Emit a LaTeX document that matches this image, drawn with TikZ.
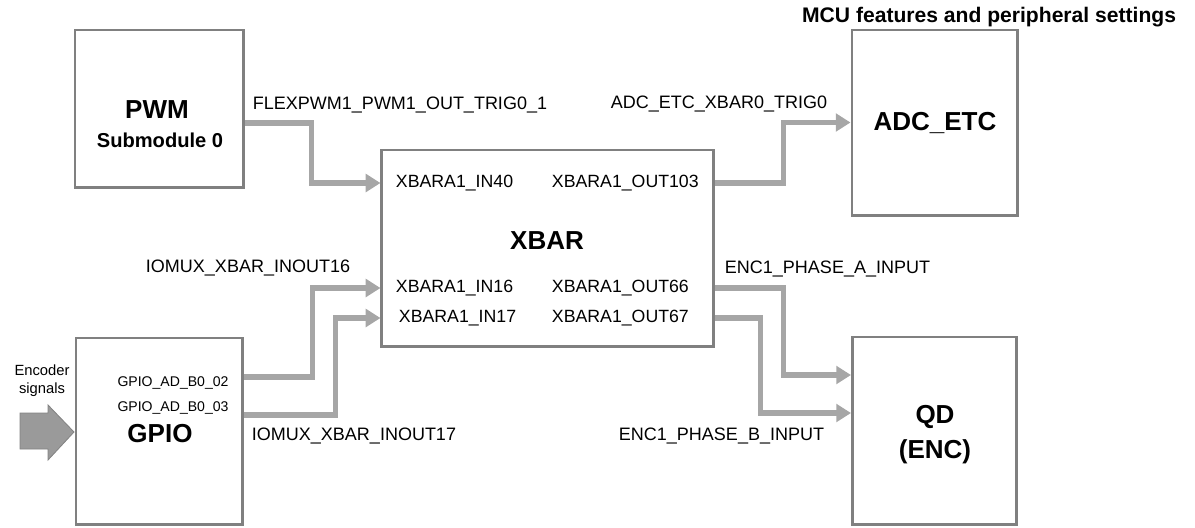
\documentclass[tikz,border=0pt]{standalone}
\usepackage{fontspec}
\setmainfont{Liberation Sans}
\usepackage{xcolor}
\usepackage{tikz}
\usetikzlibrary{arrows.meta, positioning, calc}

\definecolor{boxgray}{HTML}{808080}
\definecolor{wiregray}{HTML}{A6A6A6}
\definecolor{padgray}{HTML}{9A9A9A}

\begin{document}
\begin{tikzpicture}[
    x=0.025cm, y=-0.025cm,
    block/.style={draw=boxgray, line width=2.1pt, inner sep=0pt},
    title/.style={font=\bfseries\fontsize{18.5}{25}\selectfont, align=center},
    sub/.style={font=\bfseries\fontsize{14.3}{17}\selectfont},
    port/.style={font=\fontsize{12.6}{15}\selectfont, anchor=west},
    sig/.style={font=\fontsize{12.8}{15}\selectfont},
    pin/.style={font=\fontsize{10}{12}\selectfont},
    wire/.style={draw=wiregray, line width=3.8pt, -{Triangle[length=10.5pt, width=12.5pt]}},
]
\useasboundingbox (0,0) rectangle (1195,527);

% Blocks
\node[block, minimum width=4.2cm, minimum height=3.925cm] (pwm) at (159,108.5) {};
\node[block, minimum width=4.15cm, minimum height=4.65cm] (gpio) at (159,431) {};
\node[block, minimum width=8.275cm, minimum height=4.9cm] (xbar) at (547.5,248) {};
\node[block, minimum width=4.125cm, minimum height=4.625cm] (adc) at (934.5,122.5) {};
\node[block, minimum width=4.1cm, minimum height=4.675cm] (qd) at (934.5,430.5) {};

% Block titles
\node[title] (pwmname) at (157,110) {PWM};
\node[sub] (pwmsub) at (160,140) {Submodule 0};
\node[title] (gpioname) at (160,434) {GPIO};
\node[title] (xbarname) at (547,241) {XBAR};
\node[title] (adcname) at (935,123) {ADC\_ETC};
\node[title] (qdname) at (935,434.5) {QD\\(ENC)};
\node[sub, anchor=east, font=\bfseries\fontsize{15}{18}\selectfont] (mcu) at (1181,17) {MCU features and peripheral settings};

% XBAR ports
\node[port] (in40) at (391,183) {XBARA1\_IN40};
\node[port] (out103) at (547,183) {XBARA1\_OUT103};
\node[port] (in16) at (391,288) {XBARA1\_IN16};
\node[port] (out66) at (547,288) {XBARA1\_OUT66};
\node[port] (in17) at (394,318) {XBARA1\_IN17};
\node[port] (out67) at (547,318) {XBARA1\_OUT67};

% GPIO pins
\node[pin] (pad02) at (173,383) {GPIO\_AD\_B0\_02};
\node[pin] (pad03) at (173,408) {GPIO\_AD\_B0\_03};
\node[pin, align=center, font=\fontsize{10.5}{13}\selectfont] (enc) at (42,381) {Encoder\\signals};

% Signal names
\node[sig, anchor=west] (flexsig) at (248,105) {FLEXPWM1\_PWM1\_OUT\_TRIG0\_1};
\node[sig, anchor=east] (adcsig) at (832,104) {ADC\_ETC\_XBAR0\_TRIG0};
\node[sig, anchor=east] (iomux16) at (355,268) {IOMUX\_XBAR\_INOUT16};
\node[sig, anchor=west] (iomux17) at (247,436) {IOMUX\_XBAR\_INOUT17};
\node[sig, anchor=west] (phasea) at (720,269) {ENC1\_PHASE\_A\_INPUT};
\node[sig, anchor=east] (phaseb) at (829,436) {ENC1\_PHASE\_B\_INPUT};

% Encoder input arrow
\fill[padgray, draw=padgray!85!black, line width=0.6pt]
    (20,413) -- (48,413) -- (48,405) -- (74,432) -- (48,460) -- (48,449) -- (20,449) -- cycle;

% Connections
\draw[wire] ($(pwm.east)+(0,14.5)$) -- ++(67,0) |- (xbar.west |- in40);
\draw[wire] (xbar.east |- out103) -- ++(69,0) |- (adc.west);
\draw[wire] ($(gpio.east)+(0,-54)$) -- ++(69,0) |- (xbar.west |- in16);
\draw[wire] ($(gpio.east)+(0,-16)$) -- ++(92,0) |- (xbar.west |- in17);
\draw[wire] (xbar.east |- out66) -- ++(69,0) |- ($(qd.west)+(0,-55.5)$);
\draw[wire] (xbar.east |- out67) -- ++(46,0) |- ($(qd.west)+(0,-17.5)$);

\end{tikzpicture}
\end{document}
